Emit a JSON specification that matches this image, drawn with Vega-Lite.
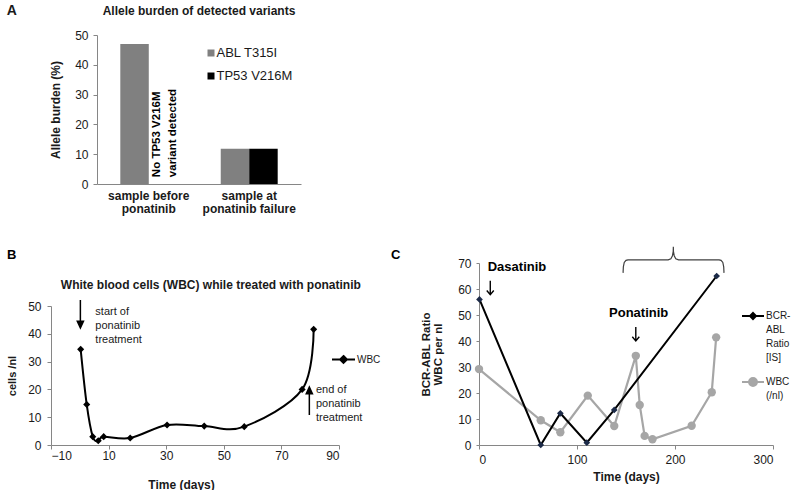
{
  "$schema": "https://vega.github.io/schema/vega-lite/v6.json",
  "padding": {"left": 6, "top": 4, "right": 0, "bottom": 0},
  "background": "white",
  "config": {
    "font": "Liberation Sans",
    "view": {"stroke": null},
    "axis": {"grid": false, "domainColor": "#868686", "tickColor": "#868686", "labelColor": "#1a1a1a", "titleColor": "#1a1a1a", "labelFontSize": 12, "titleFontSize": 12, "titleFontWeight": "bold", "tickSize": 4},
    "legend": {"padding": 0, "labelColor": "#1a1a1a"},
    "title": {"color": "#1a1a1a"}
  },
  "datasets": {
    "allele": [
      {"sample": "sample before ponatinib", "variant": "ABL T315I", "burden": 47},
      {"sample": "sample at ponatinib failure", "variant": "ABL T315I", "burden": 11.8},
      {"sample": "sample at ponatinib failure", "variant": "TP53 V216M", "burden": 11.8}
    ],
    "alleleNote": [
      {"sample": "sample before ponatinib", "variant": "TP53 V216M", "burden": 2.3, "note": "No TP53 V216M\nvariant detected"}
    ],
    "wbcB": [
      {"series": "WBC", "day": 0.3, "value": 34.4},
      {"series": "WBC", "day": 2.4, "value": 14.6},
      {"series": "WBC", "day": 4.5, "value": 3.0},
      {"series": "WBC", "day": 6.4, "value": 1.5},
      {"series": "WBC", "day": 8.3, "value": 3.0},
      {"series": "WBC", "day": 17.5, "value": 2.5},
      {"series": "WBC", "day": 30.3, "value": 7.2},
      {"series": "WBC", "day": 43.2, "value": 6.8},
      {"series": "WBC", "day": 57.1, "value": 6.6},
      {"series": "WBC", "day": 77.2, "value": 20.0},
      {"series": "WBC", "day": 81.2, "value": 41.6}
    ],
    "notesB": [
      {"day": 5.4, "value": 47.9, "note": "start of\nponatinib\ntreatment"},
      {"day": 82, "value": 19.8, "note": "end of\nponatinib\ntreatment"}
    ],
    "labelB": [{"day": -25.3, "value": 68.5, "note": "B"}],
    "titleB": [{"day": 45.5, "value": 57.6, "note": "White blood cells (WBC) while treated with ponatinib"}],
    "arrowsB": [
      {"day": 0.2, "value": 47.1, "dir": "down"},
      {"day": 79.7, "value": 15.8, "dir": "up"}
    ],
    "bcr": [
      {"series": "BCR-ABL Ratio [IS]", "day": 0.5, "value": 56},
      {"series": "BCR-ABL Ratio [IS]", "day": 63, "value": 0},
      {"series": "BCR-ABL Ratio [IS]", "day": 83, "value": 12.2},
      {"series": "BCR-ABL Ratio [IS]", "day": 110, "value": 0.9},
      {"series": "BCR-ABL Ratio [IS]", "day": 138, "value": 13.5},
      {"series": "BCR-ABL Ratio [IS]", "day": 242.5, "value": 65}
    ],
    "wbcC": [
      {"series": "WBC (/nl)", "day": 0, "value": 29.2},
      {"series": "WBC (/nl)", "day": 63, "value": 9.5},
      {"series": "WBC (/nl)", "day": 83, "value": 4.9},
      {"series": "WBC (/nl)", "day": 111, "value": 19},
      {"series": "WBC (/nl)", "day": 138, "value": 7.3},
      {"series": "WBC (/nl)", "day": 160, "value": 34.3},
      {"series": "WBC (/nl)", "day": 164, "value": 15.4},
      {"series": "WBC (/nl)", "day": 169, "value": 3.5},
      {"series": "WBC (/nl)", "day": 177, "value": 2.2},
      {"series": "WBC (/nl)", "day": 217, "value": 7.4},
      {"series": "WBC (/nl)", "day": 237.5, "value": 20.3},
      {"series": "WBC (/nl)", "day": 242, "value": 41.4}
    ],
    "brace": [
      {"ord": 1, "day": 147, "value": 66.2},
      {"ord": 2, "day": 147.3, "value": 68.5},
      {"ord": 3, "day": 148.2, "value": 70.2},
      {"ord": 4, "day": 150, "value": 71.0},
      {"ord": 5, "day": 152, "value": 71.2},
      {"ord": 6, "day": 193, "value": 71.2},
      {"ord": 7, "day": 195.8, "value": 71.6},
      {"ord": 8, "day": 197.4, "value": 72.8},
      {"ord": 9, "day": 198.2, "value": 74.5},
      {"ord": 10, "day": 198.3, "value": 76.2},
      {"ord": 11, "day": 198.4, "value": 74.5},
      {"ord": 12, "day": 199.2, "value": 72.8},
      {"ord": 13, "day": 200.8, "value": 71.6},
      {"ord": 14, "day": 203.6, "value": 71.2},
      {"ord": 15, "day": 245, "value": 71.2},
      {"ord": 16, "day": 247, "value": 71.0},
      {"ord": 17, "day": 248.8, "value": 70.2},
      {"ord": 18, "day": 249.7, "value": 68.5},
      {"ord": 19, "day": 250, "value": 66.2}
    ],
    "notesC": [
      {"day": -89.8, "value": 73.1, "note": "C"},
      {"day": 8.9, "value": 68.6, "note": "Dasatinib"},
      {"day": 132.7, "value": 50.7, "note": "Ponatinib"}
    ],
    "arrowsC": [
      {"day": 11.5, "value": 60.5},
      {"day": 160, "value": 42.7}
    ]
  },
  "title": {"text": "A", "anchor": "start", "fontSize": 14, "fontWeight": "bold", "offset": 0, "dy": 13, "frame": "bounds"},
  "bounds": "flush",
  "spacing": 228,
  "resolve": {"scale": {"color": "independent", "shape": "independent"}, "legend": {"color": "independent", "shape": "independent"}},
  "vconcat": [
    {
      "bounds": "flush",
      "spacing": 45,
      "resolve": {"scale": {"color": "independent", "shape": "independent"}, "legend": {"color": "independent", "shape": "independent"}},
      "hconcat": [
        {"width": 1, "height": 1, "data": {"values": [{}]}, "mark": {"type": "point", "opacity": 0}, "encoding": {}},
        {
          "width": 204,
          "height": 149,
          "title": {"text": "Allele burden of detected variants", "fontSize": 12, "fontWeight": "bold", "offset": 11},
          "encoding": {
            "x": {"field": "sample", "type": "nominal", "sort": ["sample before ponatinib", "sample at ponatinib failure"],
              "scale": {"paddingInner": 0.433, "paddingOuter": 0.232},
              "axis": {"title": null, "ticks": false, "labelAngle": 0, "labelFontWeight": "bold", "labelPadding": 6, "labelBaseline": "top", "labelLineHeight": 13,
                "labelExpr": "datum.value == 'sample before ponatinib' ? ['sample before', 'ponatinib'] : ['sample at', 'ponatinib failure']"}},
            "xOffset": {"field": "variant", "type": "nominal", "sort": ["ABL T315I", "TP53 V216M"], "scale": {"paddingInner": 0, "paddingOuter": 0}},
            "y": {"field": "burden", "type": "quantitative", "scale": {"domain": [0, 50], "nice": false},
              "axis": {"values": [0, 10, 20, 30, 40, 50], "title": "Allele burden (%)", "labelPadding": 5, "titlePadding": 12}}
          },
          "layer": [
            {
              "data": {"name": "allele"},
              "mark": {"type": "bar"},
              "encoding": {
                "color": {"field": "variant", "type": "nominal", "sort": ["ABL T315I", "TP53 V216M"],
                  "scale": {"domain": ["ABL T315I", "TP53 V216M"], "range": ["#808080", "#000000"]},
                  "legend": {"title": null, "orient": "none", "legendX": 107.5, "legendY": 11.5, "symbolType": "square", "symbolSize": 49, "symbolStrokeWidth": 0, "labelFontSize": 13, "labelOffset": -1, "rowPadding": 9}}
              }
            },
            {
              "data": {"name": "alleleNote"},
              "mark": {"type": "text", "angle": 270, "align": "left", "baseline": "middle", "fontWeight": "bold", "fontSize": 11.5, "lineBreak": "\n", "lineHeight": 16, "dy": -6, "color": "#000000"},
              "encoding": {"text": {"field": "note"}}
            }
          ]
        }
      ]
    },
    {
      "bounds": "flush",
      "spacing": 428,
      "resolve": {"scale": {"color": "independent", "shape": "independent"}, "legend": {"color": "independent", "shape": "independent"}},
      "hconcat": [
        {
          "bounds": "flush",
          "spacing": 42,
          "resolve": {"scale": {"color": "independent", "shape": "independent"}, "legend": {"color": "independent", "shape": "independent"}},
          "vconcat": [
            {"width": 1, "height": 1, "data": {"values": [{}]}, "mark": {"type": "point", "opacity": 0}, "encoding": {}},
            {
              "width": 288,
              "height": 139,
              "encoding": {
                "x": {"field": "day", "type": "quantitative", "scale": {"domain": [-10, 90], "nice": false},
                  "axis": {"values": [-10, 10, 30, 50, 70, 90], "title": "Time (days)", "labelPadding": 1, "titlePadding": 18, "titleX": 130}},
                "y": {"field": "value", "type": "quantitative", "scale": {"domain": [0, 50], "nice": false},
                  "axis": {"values": [0, 10, 20, 30, 40, 50], "title": "cells /nl", "titleFontSize": 11, "labelPadding": 6, "titlePadding": 10}}
              },
              "layer": [
                {
                  "data": {"name": "wbcB"},
                  "mark": {"type": "line", "interpolate": "cardinal", "strokeWidth": 2},
                  "encoding": {
                    "color": {"field": "series", "type": "nominal", "scale": {"domain": ["WBC"], "range": ["#000000"]},
                      "legend": {"title": null, "orient": "none", "legendX": 280, "legendY": 41, "symbolSize": 529, "symbolStrokeWidth": 2, "labelFontSize": 10, "labelOffset": 1,
                        "encode": {"symbols": {"update": {"shape": {"value": "M-1,0H1M0,-0.3L0.3,0L0,0.3L-0.3,0Z"}, "fill": {"value": "#000000"}, "stroke": {"value": "#000000"}}}}}}
                  }
                },
                {
                  "data": {"name": "wbcB"},
                  "mark": {"type": "point", "shape": "diamond", "filled": true, "size": 50, "color": "#000000", "opacity": 1}
                },
                {
                  "data": {"name": "notesB"},
                  "mark": {"type": "text", "align": "left", "baseline": "middle", "fontSize": 11, "lineBreak": "\n", "lineHeight": 14, "color": "#1a1a1a", "clip": false},
                  "encoding": {"text": {"field": "note"}}
                },
                {
                  "data": {"name": "labelB"},
                  "mark": {"type": "text", "align": "left", "baseline": "middle", "fontSize": 13, "fontWeight": "bold", "color": "#000000", "clip": false},
                  "encoding": {"text": {"field": "note"}}
                },
                {
                  "data": {"name": "titleB"},
                  "mark": {"type": "text", "align": "center", "baseline": "middle", "fontSize": 12, "fontWeight": "bold", "color": "#1a1a1a", "clip": false},
                  "encoding": {"text": {"field": "note"}}
                },
                {
                  "data": {"name": "arrowsB"},
                  "mark": {"type": "point", "filled": true, "size": 784, "fill": "#000000", "stroke": "#000000", "strokeWidth": 1.5, "opacity": 1, "clip": false},
                  "encoding": {
                    "shape": {"field": "dir", "type": "nominal", "scale": {"domain": ["down", "up"], "range": ["M0,-1L0,0.6M-0.22,0.52L0.22,0.52L0,1Z", "M0,1L0,-0.6M-0.22,-0.52L0.22,-0.52L0,-1Z"]}, "legend": null}
                  }
                }
              ]
            }
          ]
        },
        {
          "width": 294,
          "height": 182,
          "encoding": {
            "x": {"field": "day", "type": "quantitative", "scale": {"domain": [0, 300], "nice": false},
              "axis": {"values": [0, 100, 200, 300], "title": "Time (days)", "labelPadding": 5, "titlePadding": 6}},
            "y": {"field": "value", "type": "quantitative", "scale": {"domain": [0, 70], "nice": false},
              "axis": {"values": [0, 10, 20, 30, 40, 50, 60, 70], "title": ["BCR-ABL  Ratio", "WBC per nl"], "titleFontSize": 11.5, "titleLineHeight": 12, "tickSize": 3, "labelPadding": 5, "titlePadding": 14}}
          },
          "layer": [
            {
              "data": {"name": "brace"},
              "mark": {"type": "line", "color": "#404040", "strokeWidth": 1.2, "clip": false},
              "encoding": {"order": {"field": "ord", "type": "quantitative"}}
            },
            {
              "data": {"name": "wbcC"},
              "mark": {"type": "line", "strokeWidth": 2.2},
              "encoding": {
                "color": {"field": "series", "type": "nominal", "scale": {"domain": ["BCR-ABL Ratio [IS]", "WBC (/nl)"], "range": ["#000000", "#a6a6a6"]},
                  "legend": {"title": null, "orient": "none", "legendX": 262, "legendY": 41, "symbolSize": 484, "symbolStrokeWidth": 2, "labelFontSize": 10, "labelOffset": 1, "labelBaseline": "top", "rowPadding": 7,
                    "labelExpr": "datum.value == 'WBC (/nl)' ? ['WBC', '(/nl)'] : ['BCR-', 'ABL', 'Ratio', '[IS]']",
                    "encode": {
                      "symbols": {"update": {
                        "shape": {"signal": "datum.value === 'WBC (/nl)' ? 'M-1,0H1M0.36,0A0.36,0.36 0 1,1 -0.36,0A0.36,0.36 0 1,1 0.36,0Z' : 'M-1,0H1M0,-0.27L0.27,0L0,0.27L-0.27,0Z'"},
                        "fill": {"signal": "datum.value === 'WBC (/nl)' ? '#a6a6a6' : '#1c2a48'"},
                        "stroke": {"signal": "datum.value === 'WBC (/nl)' ? '#a6a6a6' : '#000000'"}
                      }},
                      "labels": {"update": {"dy": {"value": -5.5}, "lineHeight": {"value": 14}}}
                    }}}
              }
            },
            {
              "data": {"name": "wbcC"},
              "mark": {"type": "circle", "size": 70, "color": "#a6a6a6", "opacity": 1}
            },
            {
              "data": {"name": "bcr"},
              "mark": {"type": "line", "strokeWidth": 2},
              "encoding": {"color": {"field": "series", "type": "nominal"}}
            },
            {
              "data": {"name": "bcr"},
              "mark": {"type": "point", "shape": "diamond", "filled": true, "size": 45, "color": "#1c2a48", "opacity": 1}
            },
            {
              "data": {"name": "notesC"},
              "mark": {"type": "text", "align": "left", "baseline": "middle", "fontSize": 13, "fontWeight": "bold", "color": "#000000", "clip": false},
              "encoding": {"text": {"field": "note"}}
            },
            {
              "data": {"name": "arrowsC"},
              "mark": {"type": "point", "shape": "M0,-1L0,1M-0.5,0.4L0,1L0.5,0.4", "filled": false, "size": 196, "stroke": "#000000", "strokeWidth": 1.4, "opacity": 1, "clip": false}
            }
          ]
        }
      ]
    }
  ]
}
